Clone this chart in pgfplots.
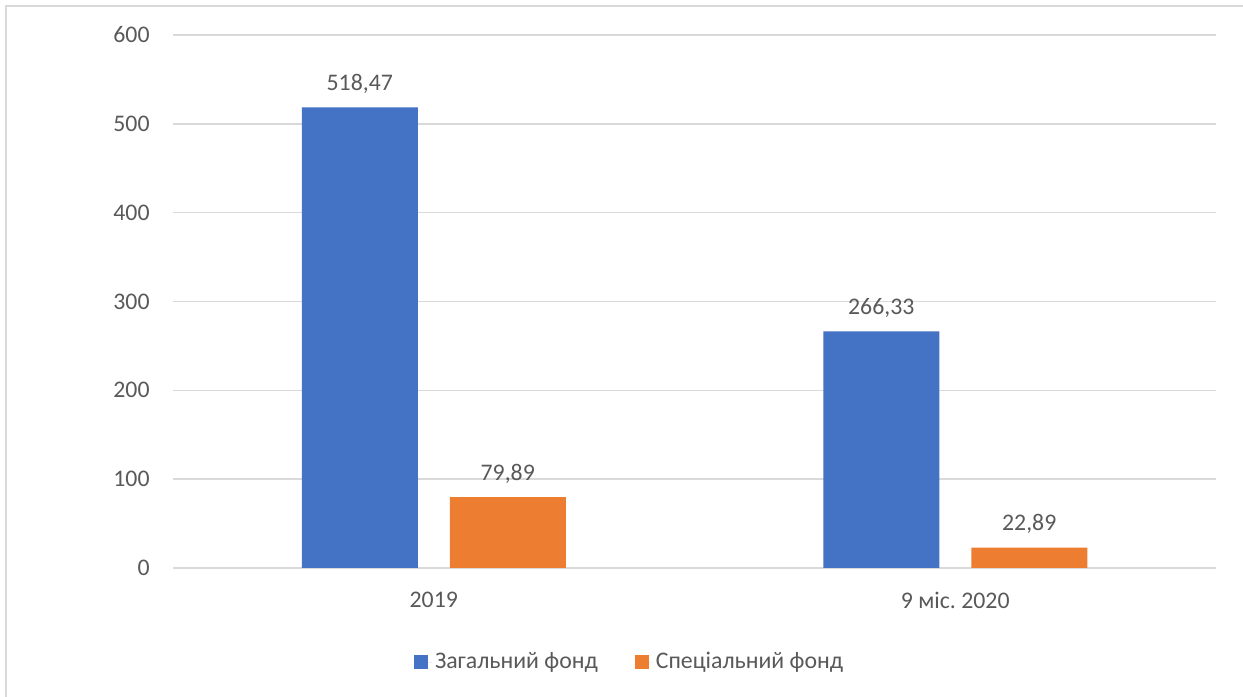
\documentclass[border=0pt]{standalone}
\usepackage{pgfplots}
\pgfplotsset{compat=1.18}
\usepackage{fontspec}
\setmainfont{Carlito}
\frenchspacing
\definecolor{blueA}{HTML}{4472C4}
\definecolor{orangeA}{HTML}{ED7D31}
\definecolor{gridC}{HTML}{D9D9D9}
\definecolor{txt}{HTML}{595959}

\begin{document}
\begin{tikzpicture}[font=\fontsize{11.9}{14}\selectfont]
\begin{axis}[
  scale only axis, width=521.5pt, height=266.5pt,
  ybar,
  ymin=0, ymax=600, ytick={0,100,...,600},
  xmin=-0.5, xmax=1.5, xtick={0,1},
  xticklabels={2019, 9 міс. 2020},
  axis line style={draw=none},
  major tick length=0pt,
  ymajorgrids, grid style={gridC, line width=0.75pt},
  /pgf/number format/assume math mode=true,
  yticklabel style={anchor=east, inner sep=0pt, xshift=-11.5pt, text=txt},
  xticklabel style={anchor=north, inner sep=0pt, yshift=-12pt, text=txt},
  bar width=58pt,
  nodes near coords,
  nodes near coords style={anchor=base, inner sep=0pt, yshift=8.5pt, text=txt,
    /pgf/number format/.cd, fixed, fixed zerofill, precision=2, use comma, 1000 sep={}, assume math mode=true},
  legend style={at={(0.4382,-0.1764)}, anchor=center, draw=none, fill=none,
    legend columns=2, text=txt, nodes={inner sep=1.5pt},
    /tikz/every even column/.append style={column sep=17pt}},
]
\addplot[fill=blueA, draw=none, bar shift=-37pt,
  legend image code/.code={\fill[blueA] (0pt,-3.5pt) rectangle (7pt,3.5pt); \path (0pt,0pt) -- (9pt,0pt);}]
  coordinates {(0,518.47) (1,266.33)};
\addplot[fill=orangeA, draw=none, bar shift=37pt,
  legend image code/.code={\fill[orangeA] (0pt,-3.5pt) rectangle (7pt,3.5pt); \path (0pt,0pt) -- (9pt,0pt);}]
  coordinates {(0,79.89) (1,22.89)};
\legend{Загальний фонд, Спеціальний фонд}
\coordinate (sw) at (rel axis cs:0,0);
\coordinate (nw) at (rel axis cs:0,1);
\coordinate (ne) at (rel axis cs:1,1);
\end{axis}
\draw[gridC, line width=0.75pt] ([shift={(-83.5pt,-64.5pt)}]sw) -- ([shift={(-83.5pt,14.5pt)}]nw) -- ([shift={(13.5pt,14.5pt)}]ne);
\pgfresetboundingbox
\path ([shift={(-86.5pt,-64.5pt)}]sw) rectangle ([shift={(13.5pt,17.5pt)}]ne);
\end{tikzpicture}
\end{document}
